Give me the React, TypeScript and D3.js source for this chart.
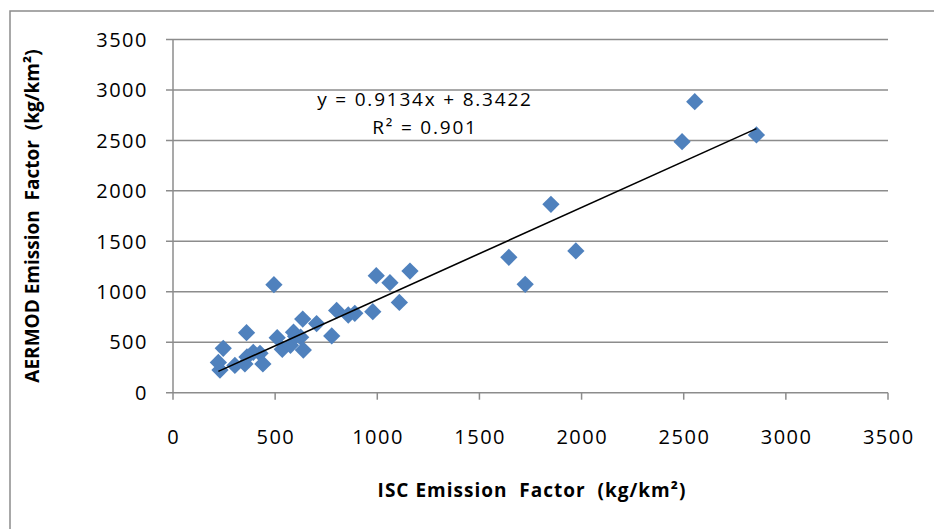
import React from 'react';
import * as d3 from 'd3';

// ISC vs AERMOD emission factors (kg/km2)
const iscValues = [
  230, 222, 246, 303, 352, 360, 362, 393, 426, 440,
  494, 510, 535, 575, 590, 600, 625, 635, 638, 703,
  777, 801, 858, 890, 978, 995, 1062, 1108, 1160,
  1644, 1724, 1850, 1972, 2492, 2554, 2856,
];
const aermodValues = [
  225, 300, 440, 270, 285, 595, 355, 400, 390, 285,
  1070, 545, 430, 470, 600, 560, 550, 730, 423, 685,
  562, 815, 770, 787, 803, 1160, 1090, 895, 1205,
  1342, 1074, 1867, 1405, 2488, 2884, 2554,
];
const xTicks = [0, 500, 1000, 1500, 2000, 2500, 3000, 3500];
const yTicks = [0, 500, 1000, 1500, 2000, 2500, 3000, 3500];
const slope = 0.9134;
const intercept = 8.3422;
const equationLabel = 'y = 0.9134x + 8.3422';
const r2Label = 'R² = 0.901';

const width = 934;
const height = 529;
const margin = { top: 39.5, right: 46, bottom: 136.3, left: 173 };
const font = "'Open Sans', sans-serif";
const gridColor = '#8c8c8c';
const markerColor = '#4F81BD';

export default function App() {
  const x = d3
    .scaleLinear()
    .domain([0, 3500])
    .range([margin.left, width - margin.right]);
  const y = d3
    .scaleLinear()
    .domain([0, 3500])
    .range([height - margin.bottom, margin.top]);

  const points = iscValues.map((v, i) => ({ x: v, y: aermodValues[i] }));
  const xMin = d3.min(iscValues) as number;
  const xMax = d3.max(iscValues) as number;

  const trend = d3
    .line<number>()
    .x((d) => x(d))
    .y((d) => y(slope * d + intercept));

  const diamond = d3.symbol().type(d3.symbolDiamond2).size(190);

  const x0 = x(0);
  const y0 = y(0);

  return (
    <svg
      width={width}
      height={height}
      style={{ position: 'absolute', left: 0, top: 0, background: '#fff' }}
      fontFamily={font}
    >
      {/* chart frame */}
      <rect x={10} y={11} width={940} height={540} fill="none" stroke={gridColor} strokeWidth={1.5} />

      {/* horizontal gridlines */}
      {yTicks.map((t) => (
        <line key={'g' + t} x1={x0 - 7} x2={x(3500)} y1={y(t)} y2={y(t)} stroke={gridColor} strokeWidth={1.5} />
      ))}
      {/* y axis */}
      <line x1={x0} x2={x0} y1={y(3500)} y2={y0} stroke={gridColor} strokeWidth={1.5} />
      {/* x ticks */}
      {xTicks.map((t) => (
        <line key={'xt' + t} x1={x(t)} x2={x(t)} y1={y0} y2={y0 + 7} stroke={gridColor} strokeWidth={1.5} />
      ))}

      {/* tick labels */}
      {yTicks.map((t) => (
        <text key={'yl' + t} x={148} y={y(t)} dy="0.36em" textAnchor="end" fontSize={20} letterSpacing={1.5} fill="#000">
          {t}
        </text>
      ))}
      {xTicks.map((t) => (
        <text key={'xl' + t} x={x(t) + 0.75} y={444} textAnchor="middle" fontSize={20} letterSpacing={1.5} fill="#000">
          {t}
        </text>
      ))}

      {/* points */}
      {points.map((p, i) => (
        <path key={'p' + i} d={diamond() as string} transform={`translate(${x(p.x)},${y(p.y)})`} fill={markerColor} />
      ))}

      {/* trendline */}
      <path d={trend([xMin, xMax]) as string} fill="none" stroke="#000" strokeWidth={1.6} />

      {/* equation */}
      <text x={425} y={106} textAnchor="middle" fontSize={19} letterSpacing={1.8} fill="#000">
        {equationLabel}
      </text>
      <text x={425} y={134} textAnchor="middle" fontSize={19} letterSpacing={1.8} fill="#000">
        {r2Label}
      </text>

      {/* axis titles */}
      <text
        x={532}
        y={497}
        textAnchor="middle"
        fontSize={19}
        letterSpacing={1}
        fontWeight="bold"
        fill="#000"
        style={{ whiteSpace: 'pre' }}
      >
        {'ISC Emission  Factor  (kg/km²)'}
      </text>
      <text
        transform="translate(39,216) rotate(-90)"
        textAnchor="middle"
        fontSize={19}
        fontWeight="bold"
        fill="#000"
        style={{ whiteSpace: 'pre' }}
      >
        {'AERMOD Emission  Factor  (kg/km²)'}
      </text>
    </svg>
  );
}
